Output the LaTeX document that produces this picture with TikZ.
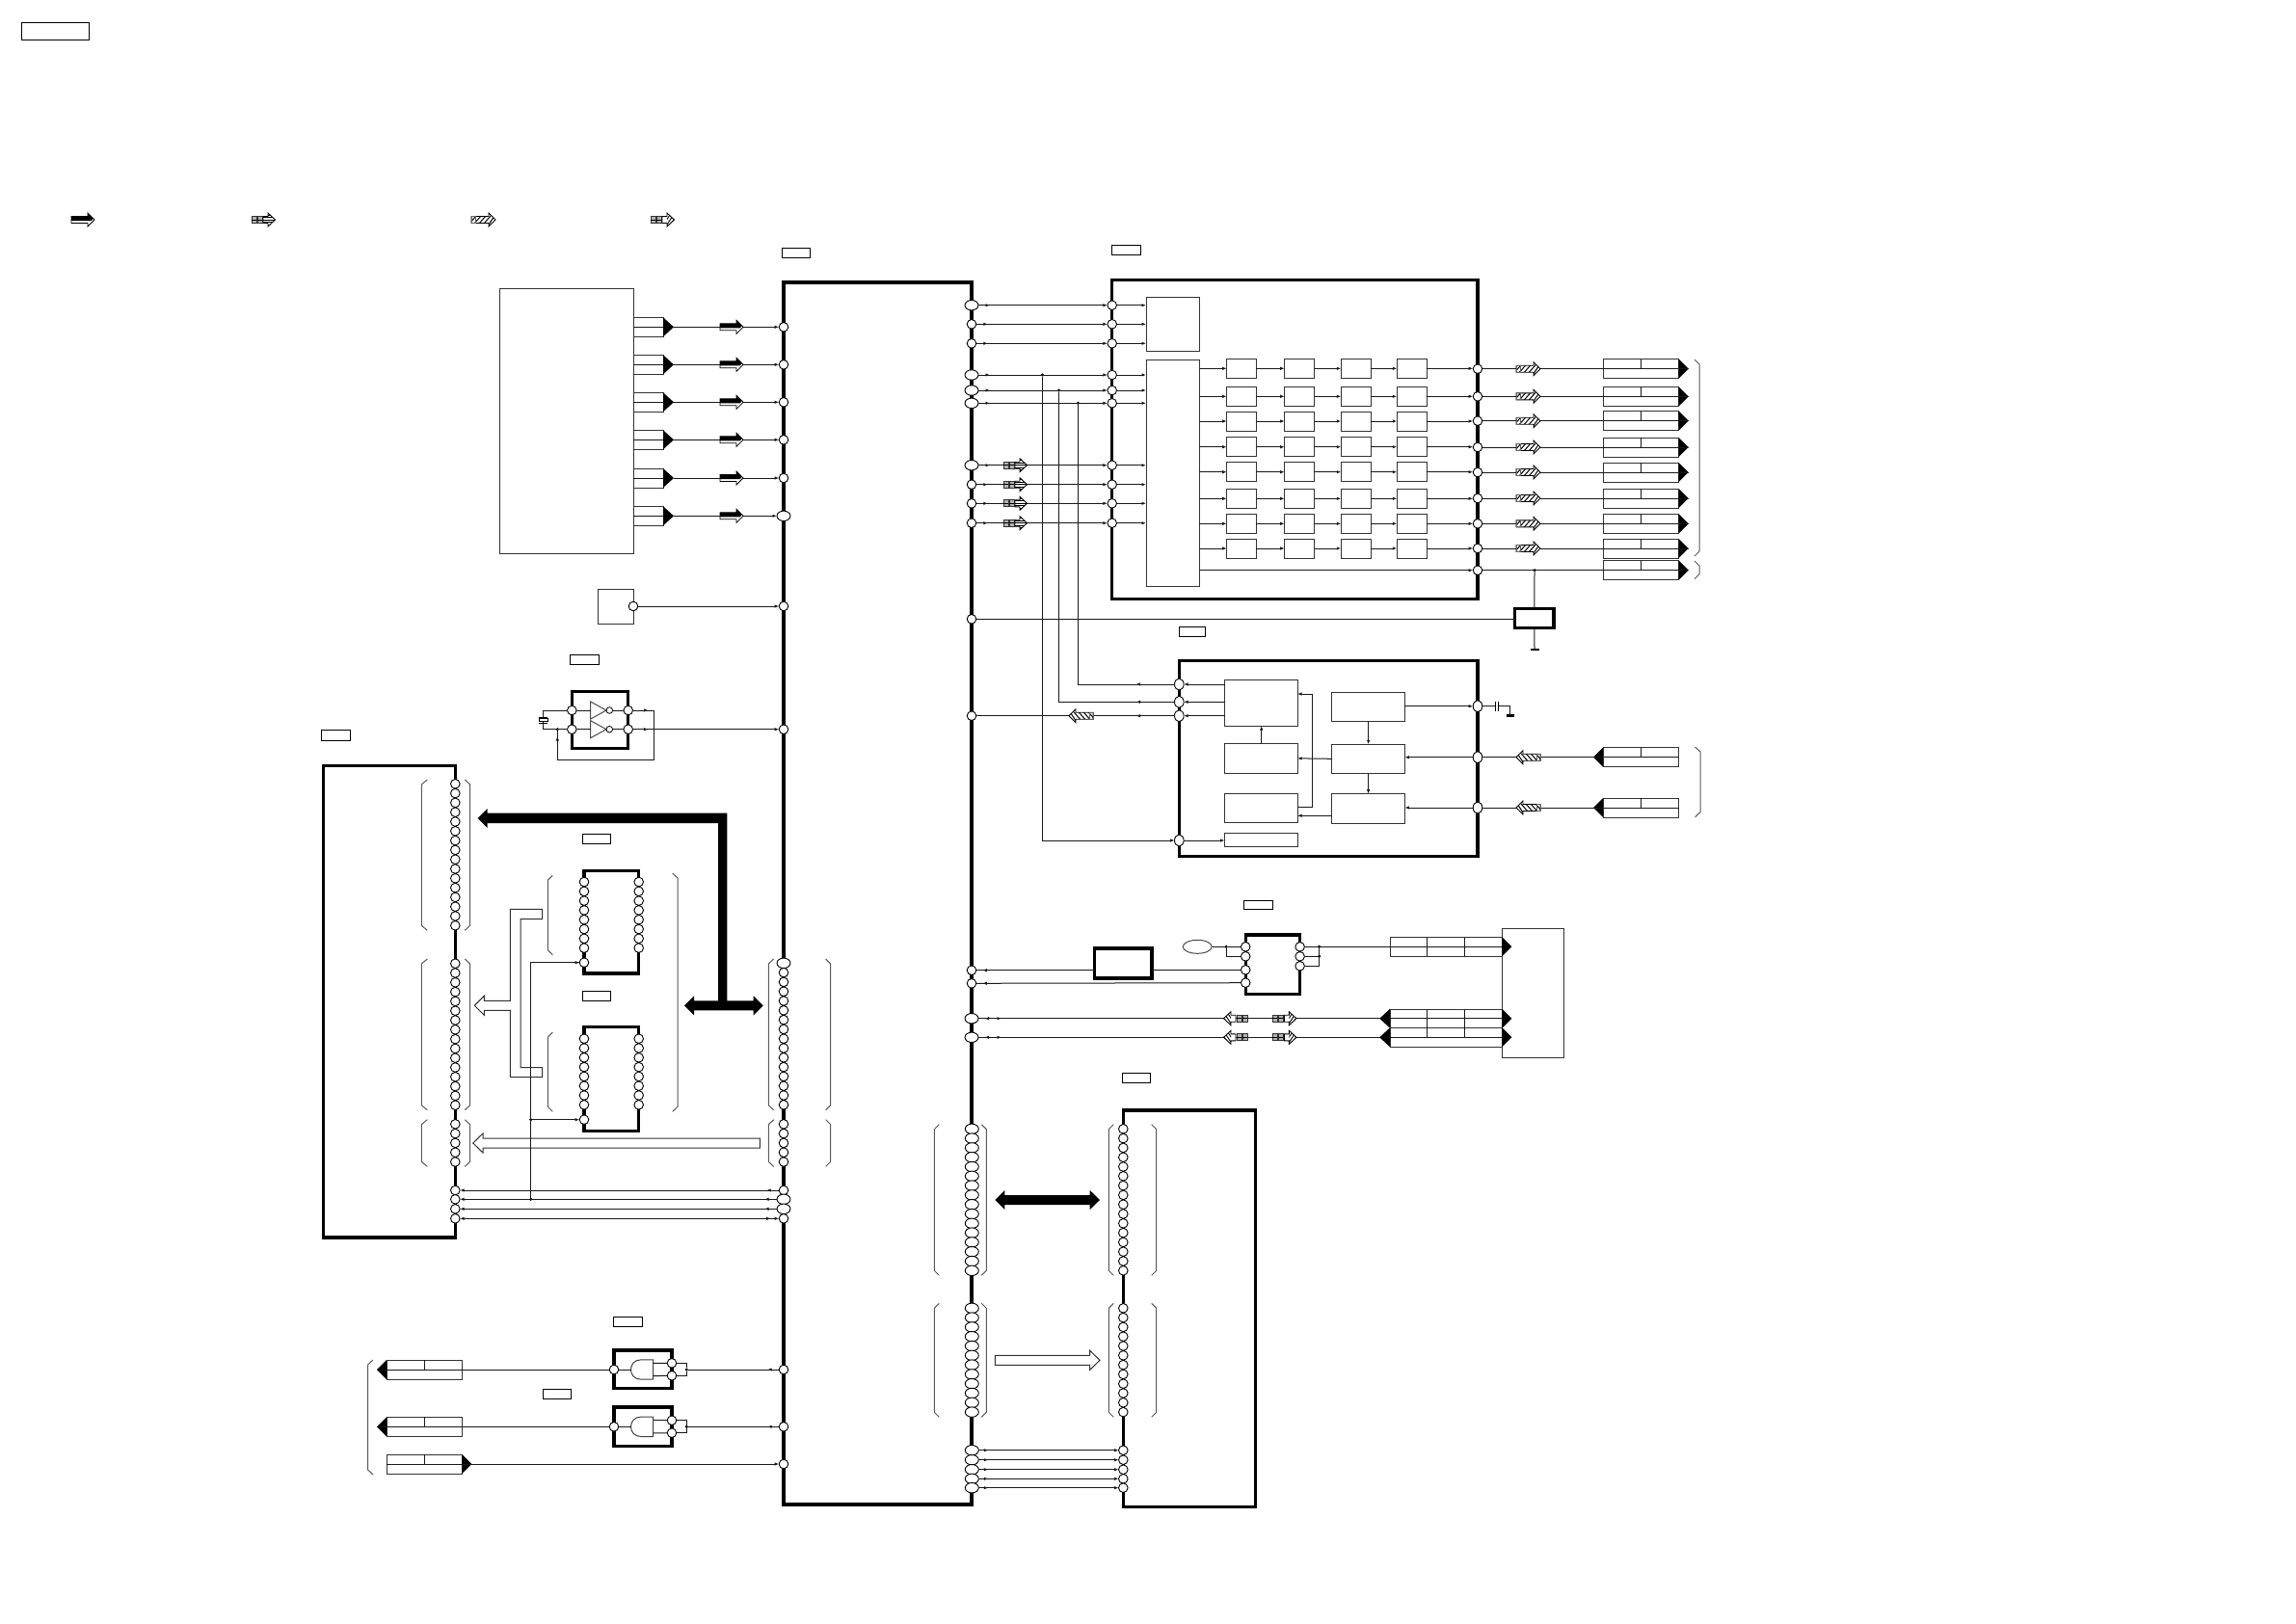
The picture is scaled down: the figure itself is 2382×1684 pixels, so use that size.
\documentclass[tikz,border=0pt]{standalone}
\usetikzlibrary{arrows.meta,decorations.markings,shapes.geometric}
\tikzset{
  >={Latex[length=4.5pt,width=3.4pt]},
  wire/.style={line width=1pt,draw=black!90},
  fine/.style={line width=1pt,draw=black!70},
  frame/.style={draw=black,line width=3.3pt,rectangle,inner sep=0pt,outer sep=0pt},
  block/.style={draw=black!80,line width=1pt,fill=white,rectangle,inner sep=0pt,outer sep=0pt},
  tag/.style={draw=black,line width=1pt,fill=white,rectangle,inner sep=0pt,outer sep=0pt},
  pinc/.style={circle,draw=black,line width=.9pt,fill=white,minimum size=9.6pt,inner sep=0pt,outer sep=0pt},
  pine/.style={ellipse,draw=black,line width=.9pt,fill=white,minimum width=14pt,minimum height=10.4pt,inner sep=0pt,outer sep=0pt},
  dot/.style={circle,fill=black,minimum size=3.4pt,inner sep=0pt,outer sep=0pt},
  wt/.style={postaction={decorate,decoration={markings,mark=at position #1 with {\arrow{>}}}}},
  rt/.style={postaction={decorate,decoration={markings,mark=at position #1 with {\arrow{<}}}}},
  brace/.style={line width=1pt,draw=black!65},
  openarrow/.style={draw=black!80,line width=1pt,fill=white},
}
\newcommand{\bx}[6]{\node[#2,minimum width={((#5)-(#3))*1pt},minimum height={((#6)-(#4))*1pt}] (#1) at ({((#3)+(#5))/2},{((#4)+(#6))/2}) {};}
\newcommand{\pinrow}[5]{\foreach \ii in {1,...,#4}{\pgfmathsetmacro\yy{#3+(\ii-1)*9.8}\node[#5] (#1\ii) at (#2,\yy) {};}}
\newcommand{\brL}[4]{\draw[brace] (#2,#3)--(#1,{#3+5})--(#1,{#4-5})--(#2,#4);}
\newcommand{\brR}[4]{\draw[brace] (#1,#3)--(#2,{#3+5})--(#2,{#4-5})--(#1,#4);}
% connector block: name, x1, x2, centre y
\newcommand{\cnR}[4]{\bx{#1}{block}{#2}{(#4)-10}{#3}{(#4)+10}\draw[wire] (#1.north)--(#1.center);
  \fill[black] (#3,{#4-10})--({#3+10},#4)--(#3,{#4+10})--cycle;\coordinate (#1-tip) at ({#3+10},#4);}
\newcommand{\cnL}[4]{\bx{#1}{block}{#2}{(#4)-10}{#3}{(#4)+10}\draw[wire] (#1.north)--(#1.center);
  \fill[black] (#2,{#4-10})--({#2-10},#4)--(#2,{#4+10})--cycle;\coordinate (#1-tip) at ({#2-10},#4);}
% small flow arrows: direction, x, y
\newcommand{\flowA}[3]{\begin{scope}[shift={(#2,#3)},xscale=#1]
  \filldraw[fill=white,draw=black,line width=.8pt] (0,-3.5)--(17,-3.5)--(17,-7)--(24,0)--(17,7)--(17,3.5)--(0,3.5)--cycle;
  \fill[black] (0,-3.5)--(17,-3.5)--(17,-7)--(22.5,-1.5)--(21,1)--(0,1)--cycle;\end{scope}}
\newcommand{\oarrow}[1]{(#1,-3.5)--({#1+5},-3.5)--({#1+5},-7)--({#1+12.5},0)--({#1+5},7)--({#1+5},3.5)--(#1,3.5)--cycle}
\newcommand{\squares}{\draw[black!80,fill=black!30,line width=.9pt] (0,-3.5) rectangle (5,3.5) (6,-3.5) rectangle (11,3.5);
  \draw[black,line width=.7pt] (0,0)--(5,0) (6,0)--(11,0);}
\newcommand{\flowB}[3]{\begin{scope}[shift={(#2,#3)},xscale=#1]\squares
  \filldraw[fill=white,draw=black,line width=.9pt] \oarrow{12};
  \begin{scope}\clip \oarrow{12};\draw[black,line width=1pt] (12,-5)--(26,-5) (12,-2.6)--(26,-2.6) (12,0)--(26,0) (12,2.6)--(26,2.6) (12,5)--(26,5);\end{scope}\end{scope}}
\newcommand{\flowC}[3]{\begin{scope}[shift={(#2,#3)},xscale=#1]
  \filldraw[fill=white,draw=black,line width=.9pt] (0,-3.5)--(18,-3.5)--(18,-7)--(25,0)--(18,7)--(18,3.5)--(0,3.5)--cycle;
  \begin{scope}\clip (0,-3.5)--(18,-3.5)--(18,-7)--(25,0)--(18,7)--(18,3.5)--(0,3.5)--cycle;
  \draw[black,line width=1pt] (-2,4)--(5,-4) (3,4)--(10,-4) (8,4)--(15,-4) (13,4)--(20,-4) (16,8)--(24,-4);\end{scope}
  \draw[black!60,line width=.9pt] (0,-3.5) rectangle (4,3.5);\end{scope}}
\newcommand{\flowD}[3]{\begin{scope}[shift={(#2,#3)},xscale=#1]\squares
  \filldraw[fill=white,draw=black,line width=.9pt] \oarrow{12};
  \begin{scope}\clip ({17},-7)--(24.5,0)--(17,7)--cycle;\draw[black,line width=.9pt] (14,4)--(20,-5) (17,5)--(23,-4) (20,6)--(26,-3);\end{scope}\end{scope}}
\begin{document}
\begin{tikzpicture}[x=1pt,y=-1pt]
\useasboundingbox (0,0) rectangle (2382,1684);
\fill[white] (0,0) rectangle (2382,1684);
%% ---- tags
\bx{t0}{tag}{22}{23}{92}{41}
\bx{t1}{tag}{811}{257}{840}{267}
\bx{t2}{tag}{1153}{254}{1183}{264}
\bx{t3}{tag}{1223}{650.3}{1250.6}{660.3}
\bx{t4}{tag}{591.3}{679.3}{621.7}{689.3}
\bx{t5}{tag}{333}{757}{363}{768}
\bx{t6}{tag}{604.3}{865.3}{633.3}{875.3}
\bx{t7}{tag}{604.3}{1028.3}{633.3}{1038.3}
\bx{t8}{tag}{1290.4}{934}{1320.4}{943.7}
\bx{t9}{tag}{1164.4}{1113.3}{1193.7}{1123}
\bx{t10}{tag}{636.3}{1366.3}{666.3}{1376.3}
\bx{t11}{tag}{563.3}{1441.3}{592.3}{1451.3}
%% ---- legend
\flowA{1}{74}{228}
\flowB{1}{261}{228}
\flowC{1}{489}{228}
\flowD{1}{675}{228}
%% ---- big frames
\bx{main}{frame}{813}{293}{1008}{1561}
\bx{icr}{frame}{1153.7}{290.7}{1533}{621.7}
\bx{ick}{frame}{1223.3}{685.7}{1533}{888.7}
\bx{mem}{frame}{335.7}{794.3}{472.3}{1284}
\bx{ram}{frame}{1165.3}{1152}{1302.3}{1563.3}
\bx{osc}{frame}{593.3}{717.3}{651.7}{776.7}
\bx{ma}{frame}{606}{903.3}{662.7}{1010}
\bx{mb}{frame}{606}{1065.3}{662.7}{1173.3}
\bx{gta}{frame}{637}{1401}{697}{1440.7}
\bx{gtb}{frame}{637}{1460}{697}{1500.3}
\bx{lic}{frame}{1292.2}{970}{1348.6}{1031.7}
\bx{lr}{frame}{1135.8}{984}{1195}{1015}
\bx{jb}{frame}{1571.7}{631.7}{1612}{651.7}
%% ---- plain blocks
\bx{srcbox}{block}{518}{299}{657}{574}
\bx{xsq}{block}{620}{611}{657}{647}
\bx{ba}{block}{1189}{308}{1244}{364}
\bx{bb}{block}{1189}{373}{1244}{608}
\bx{ck1}{block}{1270.5}{705.7}{1346}{753}
\bx{ck2}{block}{1270.5}{771.7}{1346}{802}
\bx{ck3}{block}{1270.5}{823.3}{1346}{853.7}
\bx{ck4}{block}{1270.5}{864.7}{1346}{878.7}
\bx{cc1}{block}{1381.8}{718.3}{1457.4}{748.3}
\bx{cc2}{block}{1381.8}{772.3}{1457.4}{802.3}
\bx{cc3}{block}{1381.8}{823.7}{1457.4}{854.3}
\bx{big}{block}{1558.3}{963.3}{1622.4}{1097.7}
\node[draw=black!70,line width=1pt,ellipse,fill=white,minimum width=30pt,minimum height=14pt,inner sep=0pt] (osl) at (1242.2,982.3) {};
%% ---- row blocks
\foreach \y [count=\i] in {382.3,411.3,437,463.7,489.7,517.3,543.3,569}{
  \foreach \xa/\xb [count=\j] in {1272.7/1303.3,1332.7/1363.7,1391.3/1422.3,1449.3/1480.3}{
    \bx{r\i c\j}{block}{\xa}{\y-10}{\xb}{\y+10}
  }
}
%% ---- pins: main left
\foreach \y [count=\i] in {339.3,378.3,417.3,456.3,496}{\node[pinc] (ml\i) at (813,\y) {};}
\node[pine] (ml6) at (813,535.3) {};
\node[pinc] (mlx) at (813,629) {};
\node[pinc] (mlo) at (813,756.7) {};
\pinrow{mla}{813}{999.3}{16}{pinc}
\node[pine] (mla1) at (813,999.3) {};
\pinrow{mlb}{813}{1166.3}{5}{pinc}
\foreach \y/\s [count=\i] in {1235/pinc,1244.3/pine,1254.3/pine,1264.3/pinc}{\node[\s] (mlc\i) at (813,\y) {};}
\node[pinc] (mlg1) at (813,1421) {};
\node[pinc] (mlg2) at (813,1480.3) {};
\node[pinc] (mlg3) at (813,1519) {};
%% ---- pins: main right
\foreach \y/\s [count=\i] in {316.7/pine,336.3/pinc,356.3/pinc,389/pine,405/pine,418.3/pine,482.7/pine,502.7/pinc,522.3/pinc,542.7/pinc}{\node[\s] (mr\i) at (1008,\y) {};}
\node[pinc] (mrj) at (1008,642.3) {};
\node[pinc] (mrk) at (1008,742.7) {};
\node[pinc] (mrl1) at (1008,1006.7) {};
\node[pinc] (mrl2) at (1008,1020.3) {};
\node[pine] (mrl3) at (1008,1056.7) {};
\node[pine] (mrl4) at (1008,1076.3) {};
\pinrow{mrg}{1008.3}{1171.3}{16}{pine}
\pinrow{mrh}{1008.3}{1357.3}{12}{pine}
\foreach \y [count=\i] in {1504.7,1514.7,1524.7,1534.3,1543.7}{\node[pine] (mri\i) at (1008.3,\y) {};}
%% ---- pins: right IC
\foreach \y [count=\i] in {316.7,336.3,356.3,389,405,418.3,482.7,502.7,522.3,542.7}{\node[pinc] (il\i) at (1153.7,\y) {};}
\foreach \y [count=\i] in {382.7,411.3,436.7,464,490,517,543.3,569,591.7}{\node[pinc] (ir\i) at (1533,\y) {};}
%% ---- pins: clock IC
\node[pine,minimum width=9.6pt,minimum height=12pt] (kl1) at (1223.3,710) {};
\node[pine,minimum width=9.6pt,minimum height=12pt] (kl2) at (1223.3,728.3) {};
\node[pine,minimum width=9.6pt,minimum height=12pt] (kl3) at (1223.3,742.7) {};
\node[pine,minimum width=9.6pt,minimum height=12pt] (kl4) at (1223.3,872) {};
\node[pine,minimum width=9.6pt,minimum height=12pt] (kr1) at (1533,732.7) {};
\node[pine,minimum width=9.6pt,minimum height=12pt] (kr2) at (1533,785.7) {};
\node[pine,minimum width=9.6pt,minimum height=12pt] (kr3) at (1533,838) {};
%% ---- pins: small ICs
\node[pinc] (xp) at (657,629) {};
\node[pinc] (ol1) at (593.3,737) {};
\node[pinc] (ol2) at (593.3,756.7) {};
\node[pinc] (or1) at (651.7,737) {};
\node[pinc] (or2) at (651.7,756.7) {};
\pinrow{qg}{472.3}{813.3}{16}{pinc}
\pinrow{qh}{472.3}{999.7}{16}{pinc}
\pinrow{qi}{472.3}{1166.3}{5}{pinc}
\foreach \y [count=\i] in {1235,1244.3,1254.3,1264.3}{\node[pinc] (qj\i) at (472.3,\y) {};}
\pinrow{mal}{606}{915}{8}{pinc}
\pinrow{mar}{662.7}{915}{8}{pinc}
\pinrow{mbl}{606}{1077.7}{8}{pinc}
\pinrow{mbr}{662.7}{1077.7}{8}{pinc}
\node[pinc] (mac) at (606,998.7) {};
\node[pinc] (mbc) at (606,1161.7) {};
\pinrow{rg}{1165.3}{1171.3}{16}{pinc}
\pinrow{rh}{1165.3}{1357.3}{12}{pinc}
\foreach \y [count=\i] in {1504.7,1514.7,1524.7,1534.3,1543.7}{\node[pinc] (ri\i) at (1165.3,\y) {};}
\node[pinc] (gal) at (637,1421) {};
\node[pinc] (gar1) at (697,1414.3) {};
\node[pinc] (gar2) at (697,1427.3) {};
\node[pinc] (gbl) at (637,1480.3) {};
\node[pinc] (gbr1) at (697,1473.7) {};
\node[pinc] (gbr2) at (697,1486.7) {};
\node[pinc] (ull1) at (1292.2,982.3) {};
\node[pinc] (ull2) at (1292.2,992.3) {};
\node[pinc] (ull3) at (1292.2,1006.3) {};
\node[pinc] (ull4) at (1292.2,1019.7) {};
\node[pinc] (ulr1) at (1348.6,982.3) {};
\node[pinc] (ulr2) at (1348.6,992.3) {};
\node[pinc] (ulr3) at (1348.6,1002.3) {};
%% ---- source connectors and wires
\foreach \y [count=\i] in {339.3,378.3,417.3,456.3,496,535.3}{
  \bx{ls\i}{block}{657}{\y-10}{688}{\y+10}
  \draw[wire] (ls\i.west)--(ls\i.east);
  \fill[black] (688,\y-10)--(699,\y)--(688,\y+10)--cycle;
  \coordinate (ls\i-tip) at (699,\y);
  \draw[wire,->] (ls\i-tip)--(ml\i);
  \flowA{1}{747}{\y}
}
\draw[wire,->] (xp)--(mlx);
%% ---- main to right IC
\node[dot] (j1) at (1081.3,389) {};
\node[dot] (j2) at (1098.5,405) {};
\node[dot] (j3) at (1118.4,418.3) {};
\foreach \i in {1,...,10}{\draw[wire,->,wt=12pt] (mr\i)--(il\i);}
\foreach \i in {1,2,3}{\draw[wire,->] (il\i)--(ba.west |- il\i);}
\foreach \i in {4,...,10}{\draw[wire,->] (il\i)--(bb.west |- il\i);}
\foreach \y in {482.7,502.7,522.3,542.7}{\flowB{1}{1041}{\y}}
\foreach \i in {1,...,8}{
  \draw[wire,->] (bb.east |- r\i c1.west)--(r\i c1.west);
  \draw[wire,->] (r\i c1.east)--(r\i c2.west);
  \draw[wire,->] (r\i c2.east)--(r\i c3.west);
  \draw[wire,->] (r\i c3.east)--(r\i c4.west);
  \draw[wire,->] (r\i c4.east)--(r\i c4.east -| ir\i.west);
}
\draw[wire,->] (bb.east |- ir9)--(ir9);
%% ---- right IC outputs
\foreach \y [count=\i] in {382.7,411.3,436.7,464,490,517,543.3,569,591.7}{
  \cnR{co\i}{1663.3}{1741.7}{\y}
  \draw[wire] (ir\i)--(co\i-tip);
}
\foreach \y in {382.7,411.3,436.7,464,490,517,543.3,569}{\flowC{1}{1573}{\y}}
\brR{1758}{1763}{373}{577}
\brR{1758}{1763}{582}{600.7}
\node[dot] (jr) at (1592,591.7) {};
\draw[wire] (jr)--(jb.north);
\coordinate (gnd1) at (1592,674);
\draw[wire] (jb.south)--(gnd1);
\draw[line width=1.6pt] (1587.5,674)--(1596.5,674);
\draw[wire] (mrj)--(jb.west |- mrj);
%% ---- clock IC
\draw[wire,wt=40pt] (kl1) -| (j3);
\draw[wire,wt=40pt] (kl2) -| (j2);
\draw[wire,wt=40pt] (kl3)--(mrk);
\draw[wire,->] (j1) |- (kl4);
\flowC{-1}{1134}{742.7}
\draw[wire,->] (ck1.west |- kl1)--(kl1);
\draw[wire,->] (ck1.west |- kl2)--(kl2);
\draw[wire,->] (ck1.west |- kl3)--(kl3);
\draw[wire,->] (kl4)--(ck4.west |- kl4);
\draw[wire,->] (cc1.east |- kr1)--(kr1);
\draw[wire,->] (kr2)--(cc2.east |- kr2);
\draw[wire,->] (kr3)--(cc3.east |- kr3);
\draw[wire,->] (cc1.south)--(cc2.north);
\draw[wire,->] (cc2.south)--(cc3.north);
\draw[wire,->] (cc2.west)--(ck2.east);
\draw[wire,->] (cc3.west |- 1381.8,846.3)--(ck3.east |- 1346,846.3);
\coordinate (busb) at (1361,837.3);
\coordinate (bust) at (1361,720);
\draw[wire,->] (ck3.east |- busb)--(busb)--(bust)--(ck1.east |- bust);
\draw[wire,->] (ck2.north -| 1308.7,0)--(ck1.south -| 1308.7,0);
%% capacitor to ground
\coordinate (capa) at (1551,732.7);
\coordinate (capb) at (1554.5,732.7);
\coordinate (gndc) at (1566,741);
\draw[wire] (kr1)--(capa);
\draw[wire] (capb)-|(gndc);
\draw[line width=1pt] (1551,727.5)--(1551,737.5) (1554.5,727.5)--(1554.5,737.5);
\fill[black] (1562.6,741) rectangle (1570.6,744);
%% ---- clock connectors
\foreach \n/\y in {1/785.7,2/838}{
  \cnL{cp\n}{1663}{1741.5}{\y}
  \draw[wire] (cp\n.east)--(cp\n-tip);
}
\draw[wire] (cp1-tip)--(kr2);
\draw[wire] (cp2-tip)--(kr3);
\flowC{-1}{1598}{785.7}
\flowC{-1}{1598}{838}
\brR{1758.5}{1764}{775}{847.7}
%% ---- crystal oscillator
\foreach \i/\y in {1/737,2/756.7}{
  \draw[draw=black!70,line width=1pt,fill=white] (612.7,\y-9)--(629,\y)--(612.7,\y+9)--cycle;
  \node[circle,draw=black,line width=.8pt,fill=white,minimum size=6.6pt,inner sep=0pt] (inv\i) at (632.3,\y) {};
  \coordinate (invin\i) at (612.7,\y);
  \draw[wire] (ol\i)--(invin\i);
  \draw[wire] (inv\i)--(or\i);
}
\node[dot] (oj) at (578.3,756.7) {};
\node[tag,minimum width=9pt,minimum height=3.6pt] (xtal) at (563.8,747) {};
\draw[wire] (ol1) -| (xtal.north);
\draw[wire] (ol2) -| (xtal.south);
\draw[line width=.8pt] (559.3,744)--(568.3,744) (559.3,750)--(568.3,750);
\coordinate (fbc) at (678.3,737);
\coordinate (fbd) at (678.3,788.3);
\coordinate (fbe) at (578.3,788.3);
\draw[wire,wt=16pt] (or1)--(fbc)--(fbd)--(fbe)--(oj);
\draw[wire,->] (fbe)--(578.3,764);
\draw[wire,->,wt=16pt] (or2)--(mlo);
%% ---- memory braces
\brL{437.3}{443.3}{809}{965.3}
\brR{482.3}{487.7}{809}{965.3}
\brL{437.3}{443.3}{995}{1151.7}
\brR{482.3}{487.7}{995}{1151.7}
\brL{437.3}{443.3}{1161.7}{1210.3}
\brR{482.3}{487.7}{1161.7}{1210.3}
\brL{568.3}{573.3}{908.3}{990.7}
\brL{568.3}{573.3}{1071}{1153.3}
\brR{697.7}{703}{906}{1153.3}
\brL{797.3}{802.7}{995}{1151.7}
\brR{856.7}{861.7}{995}{1151.7}
\brL{797.3}{802.7}{1161.7}{1210.3}
\brR{856.7}{861.7}{1161.7}{1210.3}
%% ---- bus arrows
\fill[black] (495.7,849)--(505.7,839)--(505.7,843.7)--(754.3,843.7)--(754.3,1038.3)--(781.7,1038.3)--(781.7,1033.3)--(791.7,1043.3)--(781.7,1053.3)--(781.7,1048.3)--(720,1048.3)--(720,1053.3)--(710,1043.3)--(720,1033.3)--(720,1038.3)--(745,1038.3)--(745,854)--(505.7,854)--(505.7,859)--cycle;
\draw[openarrow] (492.3,1043.3)--(502.3,1033.3)--(502.3,1038.3)--(529.3,1038.3)--(529.3,943.3)--(562.7,943.3)--(562.7,953.7)--(540,953.7)--(540,1107.7)--(562.7,1107.7)--(562.7,1117.7)--(529.3,1117.7)--(529.3,1048.3)--(502.3,1048.3)--(502.3,1053.3)--cycle;
\draw[openarrow] (490.7,1186)--(501,1176)--(501,1181)--(788.3,1181)--(788.3,1191)--(501,1191)--(501,1196)--cycle;
%% ---- chip select
\node[dot] (cs2) at (550.7,1161.7) {};
\node[dot] (cs1) at (550.7,1244.3) {};
\draw[wire] (cs1) |- (mac);
\draw[wire,->] (550.7,998.7)--(mac);
\draw[wire,->] (cs2)--(mbc);
\foreach \i in {1,2,3}{\draw[wire,->,wt=13pt] (mlc\i)--(qj\i);}
\draw[wire,<->,rt=13pt] (mlc4)--(qj4);
%% ---- ram side
\brL{969.3}{974.3}{1166.7}{1323.3}
\brR{1018.3}{1023.3}{1166.7}{1323.3}
\brL{969.3}{974.3}{1352.3}{1470.3}
\brR{1018.3}{1023.3}{1352.3}{1470.3}
\brL{1150.3}{1155.3}{1166.7}{1323.3}
\brR{1194.7}{1199.7}{1166.7}{1323.3}
\brL{1150.3}{1155.3}{1352.3}{1470.3}
\brR{1194.7}{1199.7}{1352.3}{1470.3}
\fill[black] (1032.3,1245)--(1042.3,1235)--(1042.3,1240)--(1130.7,1240)--(1130.7,1235)--(1141,1245)--(1130.7,1255)--(1130.7,1250)--(1042.3,1250)--(1042.3,1255)--cycle;
\draw[openarrow] (1032.3,1406.3)--(1130.7,1406.3)--(1130.7,1401.3)--(1141,1411.3)--(1130.7,1421.3)--(1130.7,1416.3)--(1032.3,1416.3)--cycle;
\foreach \i in {1,...,5}{\draw[wire,->,wt=10pt] (mri\i)--(ri\i);}
%% ---- gates
\foreach \p/\y/\c in {a/1421/1,b/1480.3/2}{
  \draw[draw=black!75,line width=1pt,fill=white] (677.7,\y-10.2)--(665,\y-10.2) .. controls (651,\y-10.2) and (651,\y+10.2) .. (665,\y+10.2)--(677.7,\y+10.2)--cycle;
  \coordinate (g\p o) at (654.5,\y);
  \coordinate (g\p i1) at (677.7,\y-6.6);
  \coordinate (g\p i2) at (677.7,\y+6.6);
  \node[dot] (g\p j) at (712.3,\y) {};
  \draw[wire] (g\p l)--(g\p o);
  \draw[wire] (g\p r1)--(g\p i1);
  \draw[wire] (g\p r2)--(g\p i2);
  \draw[wire] (g\p r1) -| (g\p j);
  \draw[wire] (g\p r2) -| (g\p j);
  \draw[wire,wt=12pt] (mlg\c)--(g\p j);
  \cnL{cg\c}{401}{479.3}{\y}
  \draw[wire] (g\p l)--(cg\c-tip);
}
\cnR{cg3}{401}{479.3}{1519}
\draw[wire] (cg3.west)--(cg3-tip);
\draw[wire,->] (cg3-tip)--(mlg3);
\brL{381.7}{387}{1411}{1530}
%% ---- lower right section
\draw[wire,rt=11pt] (mrl1)--(lr.west |- mrl1);
\draw[wire] (lr.east |- ull3)--(ull3);
\draw[wire,rt=11pt] (mrl2)--(ull4);
\draw[wire,rt=11pt,wt=24pt] (mrl3)--(1431.3,1056.7) coordinate (tipa);
\draw[wire,rt=11pt,wt=24pt] (mrl4)--(1431.3,1076.3) coordinate (tipb);
\foreach \y in {1056.7,1076.3}{\flowD{-1}{1294}{\y}\flowD{1}{1320.4}{\y}}
\node[dot] (lj1) at (1272.2,982.3) {};
\draw[wire] (osl)--(lj1)--(ull1);
\draw[wire] (lj1) |- (ull2);
\node[dot] (ud1) at (1368.6,982.3) {};
\node[dot] (ud2) at (1368.6,992.3) {};
\draw[wire] (ulr1)--(ud1);
\draw[wire] (ulr2)--(ud2);
\draw[wire] (ud1) |- (ulr3);
\bx{c3a}{block}{1442}{972.7}{1558.3}{992.3}
\bx{c3b}{block}{1442}{1047}{1558.3}{1066.7}
\bx{c3c}{block}{1442}{1066.7}{1558.3}{1086}
\foreach \x in {1480.5,1519.4}{
  \draw[wire] (\x,972.7)--(\x,992.3);
  \draw[wire] (\x,1047)--(\x,1076.3);
}
\coordinate (tc) at (1568.3,982.3);
\coordinate (td) at (1568.3,1056.7);
\coordinate (te) at (1568.3,1076.3);
\draw[wire] (ud1)--(tc);
\draw[wire] (tipa)--(td);
\draw[wire] (tipb)--(te);
\foreach \y in {982.3,1056.7,1076.3}{\fill[black] (1558.3,\y-10)--(1568.3,\y)--(1558.3,\y+10)--cycle;}
\foreach \y in {1056.7,1076.3}{\fill[black] (1442,\y-10)--(1431.3,\y)--(1442,\y+10)--cycle;}
\end{tikzpicture}
\end{document}
